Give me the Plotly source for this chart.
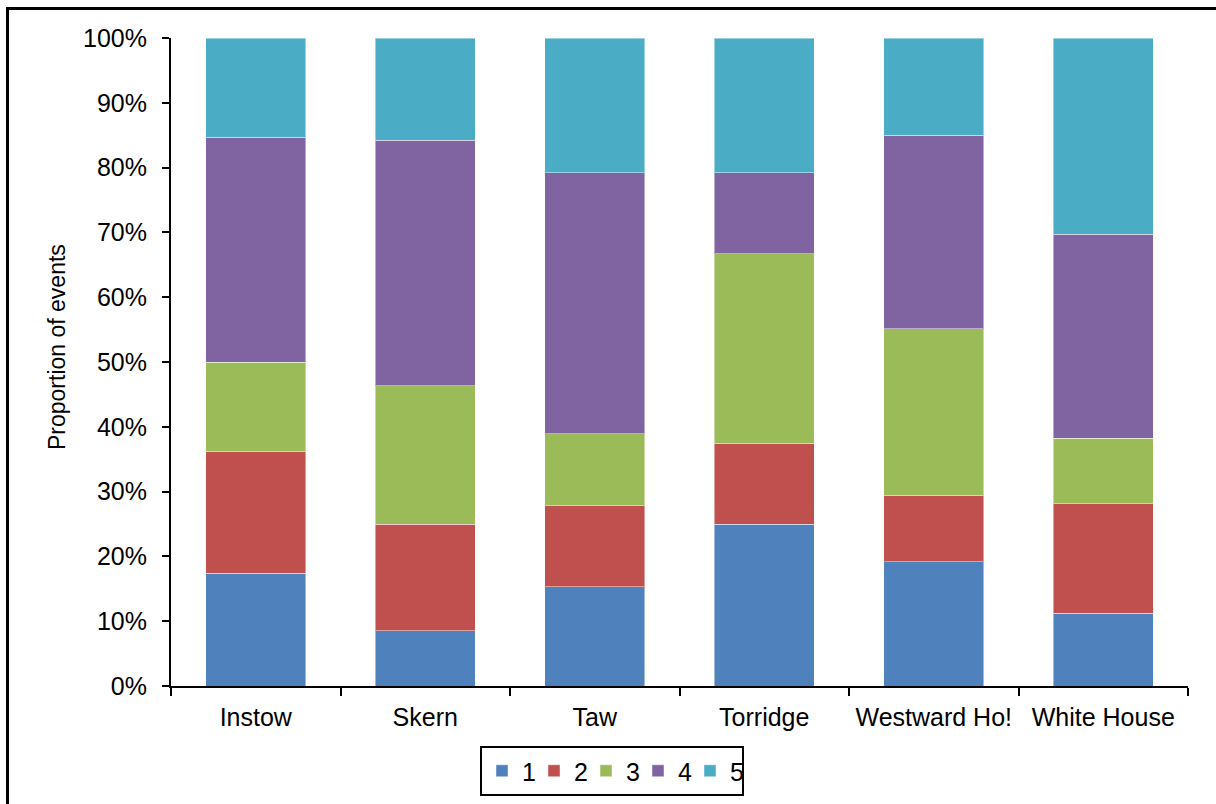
"""Stacked 100% bar chart of event categories per site."""

import plotly.graph_objects as go


SITES = ["Instow", "Skern", "Taw", "Torridge", "Westward Ho!", "White House"]
CATEGORY_NAMES = ["1", "2", "3", "4", "5"]

# percentage of events in each category, per site
CAT_1 = [17.4, 8.5, 15.3, 25.0, 19.2, 11.2]
CAT_2 = [18.8, 16.5, 12.5, 12.5, 10.2, 16.9]
CAT_3 = [13.8, 21.3, 11.1, 29.2, 25.7, 10.1]
CAT_4 = [34.7, 37.9, 40.3, 12.5, 29.9, 31.5]
CAT_5 = [15.3, 15.8, 20.8, 20.8, 15.0, 30.3]

Y_TICKS = [0, 10, 20, 30, 40, 50, 60, 70, 80, 90, 100]

COLORS = {
    "1": "#4f81bd",
    "2": "#c0504d",
    "3": "#9bbb59",
    "4": "#8064a2",
    "5": "#4bacc6",
    "text": "#000000",
    "axis": "#000000",
}
FONT = '"Liberation Sans", Arial, sans-serif'

WIDTH, HEIGHT = 1216, 804
MARGIN = {"l": 171, "r": 28, "t": 38, "b": 118, "autoexpand": False}


def _paper_x(px):
    """Convert a pixel column of the page to paper x."""
    plot_w = WIDTH - MARGIN["l"] - MARGIN["r"]
    return (px - MARGIN["l"]) / plot_w


def _paper_y(py):
    """Convert a pixel row of the page to paper y."""
    plot_h = HEIGHT - MARGIN["t"] - MARGIN["b"]
    return (HEIGHT - MARGIN["b"] - py) / plot_h


figure = go.Figure()
for name, values in zip(CATEGORY_NAMES, [CAT_1, CAT_2, CAT_3, CAT_4, CAT_5]):
    figure.add_trace(
        go.Bar(
            x=SITES,
            y=values,
            name=name,
            marker={
                "color": COLORS[name],
                "line": {"color": "rgba(255,255,255,0.45)", "width": 1},
            },
        )
    )

figure.update_layout(
    width=WIDTH,
    height=HEIGHT,
    barmode="stack",
    bargap=0.41,
    paper_bgcolor="#ffffff",
    plot_bgcolor="#ffffff",
    margin=MARGIN,
    font={"family": FONT, "size": 25, "color": COLORS["text"]},
    showlegend=True,
    legend={
        "orientation": "h",
        "xanchor": "center",
        "yanchor": "middle",
        "x": _paper_x(612),
        "y": _paper_y(771),
        "bordercolor": "#000000",
        "borderwidth": 2,
        "font": {"size": 25},
        "itemwidth": 30,
        "entrywidth": 7,
        "traceorder": "normal",
    },
)
figure.update_xaxes(
    type="category",
    showline=True,
    linecolor=COLORS["axis"],
    linewidth=2,
    ticks="outside",
    tickson="boundaries",
    ticklen=8,
    tickwidth=2,
    tickcolor=COLORS["axis"],
    showgrid=False,
    zeroline=False,
    ticklabelstandoff=8,
)
figure.update_yaxes(
    range=[0, 100],
    tickvals=Y_TICKS,
    ticktext=[f"{t}%" for t in Y_TICKS],
    showline=True,
    linecolor=COLORS["axis"],
    linewidth=2,
    ticks="outside",
    ticklen=7,
    tickwidth=2,
    tickcolor=COLORS["axis"],
    showgrid=False,
    zeroline=False,
    ticklabelstandoff=10,
)

figure.add_annotation(
    text="Proportion of events",
    textangle=-90,
    showarrow=False,
    xref="paper",
    yref="paper",
    x=_paper_x(57),
    y=_paper_y(347),
    xanchor="center",
    yanchor="middle",
    font={"size": 23},
)

# chart frame (right and bottom edges fall outside the page)
frame = {"color": "#000000", "width": 3}
figure.add_shape(
    type="line", xref="paper", yref="paper",
    x0=_paper_x(7), x1=_paper_x(WIDTH + 20), y0=_paper_y(8.5), y1=_paper_y(8.5),
    line=frame,
)
figure.add_shape(
    type="line", xref="paper", yref="paper",
    x0=_paper_x(7.5), x1=_paper_x(7.5), y0=_paper_y(7), y1=_paper_y(HEIGHT + 20),
    line=frame,
)

figure.write_html(
    "out.html",
    config={"displayModeBar": False},
    post_script="document.body.style.margin='0px';document.body.style.overflow='hidden';",
)
